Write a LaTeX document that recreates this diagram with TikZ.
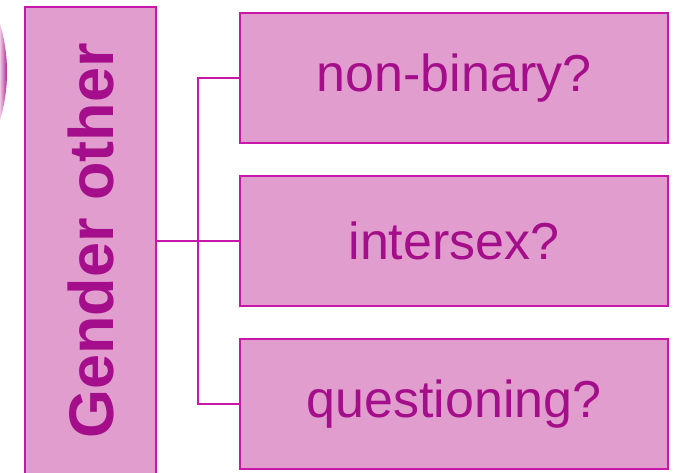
\documentclass[tikz,border=0pt]{standalone}
\usepackage{fontspec}
\setmainfont{Liberation Sans}
\usepackage{xcolor}
\usetikzlibrary{positioning}

\definecolor{boxfill}{HTML}{E09DCE}
\definecolor{boxline}{HTML}{C816AB}
\definecolor{boxtext}{HTML}{A50E8A}

\begin{document}
\begin{tikzpicture}[x=1pt, y=-1pt, node distance=33pt]
    % Define styles
    \tikzstyle{category} = [rectangle, minimum width=131pt, minimum height=468pt, inner sep=0pt, outer sep=0pt, draw=boxline, line width=2pt, fill=boxfill, text=boxtext, font=\bfseries\fontsize{63}{68}\selectfont]
    \tikzstyle{option} = [rectangle, minimum width=428pt, minimum height=130pt, inner sep=0pt, outer sep=0pt, draw=boxline, line width=2pt, fill=boxfill, text=boxtext, font=\fontsize{52}{58}\selectfont]
    \tikzstyle{link} = [draw=boxline, line width=2pt]

    \useasboundingbox (0,0) rectangle (679,473);
    \clip (0,0) rectangle (679,473);

    % Sphere edge
    \begin{scope}
        \clip (-161,72) circle (168);
        \shade [left color=boxfill!60!white, right color=boxtext] (0,20) rectangle (8,125);
    \end{scope}

    % Nodes
    \node [category, anchor=north west] (gender) at (25,7) {\rotatebox{90}{Gender other}};
    \node [option, anchor=north west] (nonbinary) at (240,13) {non-binary?};
    \node [option, below=of nonbinary] (intersex) {intersex?};
    \node [option, below=of intersex] (questioning) {questioning?};
    \coordinate (split) at (198,0 |- intersex.west);

    % Connectors
    \draw [link] (gender.east |- intersex.west) -- (intersex.west);
    \draw [link] (nonbinary.west) -| (split) |- (questioning.west);

\end{tikzpicture}
\end{document}
